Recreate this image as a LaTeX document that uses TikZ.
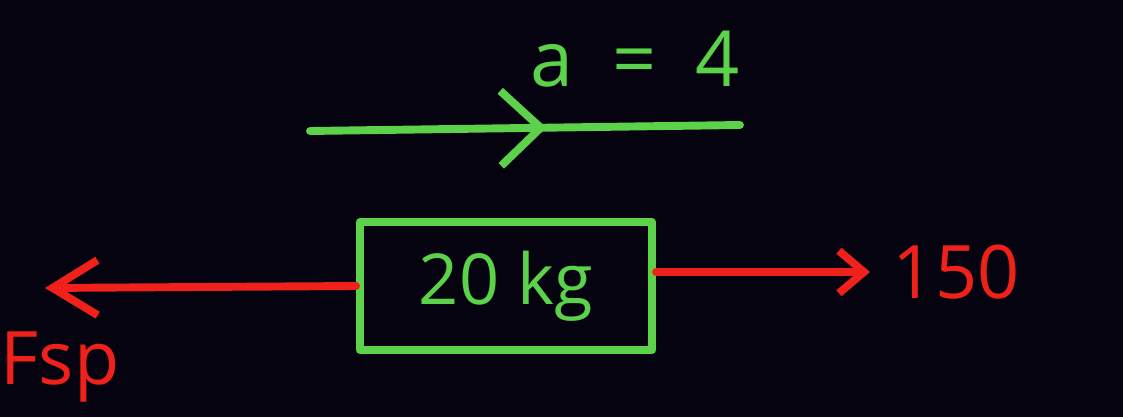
\documentclass[tikz,border=0pt]{standalone}
\usepackage{fontspec}
\setmainfont{Open Sans}
\usetikzlibrary{arrows.meta,positioning,decorations.markings}
\definecolor{board}{HTML}{05030F}
\definecolor{chalkgreen}{HTML}{5CD14A}
\definecolor{chalkred}{HTML}{F0201A}

\begin{document}
\begin{tikzpicture}[
  line cap=round, line join=round,
  grn/.style={draw=chalkgreen, line width=4.5pt},
  frc/.style={draw=chalkred, line width=4.5pt},
  txtg/.style={text=chalkgreen, font=\fontsize{40}{44}\selectfont, inner sep=0pt},
  txtr/.style={text=chalkred, font=\fontsize{42}{46}\selectfont, inner sep=0pt},
  midarr/.style={postaction={decorate}, decoration={markings,
      mark=at position 0.55 with {\arrow[chalkgreen, line width=4.5pt]{Straight Barb[length=0.8cm, width=1.5cm]}}}}]
\fill[board] (0,0) rectangle (22.46,8.34);
\useasboundingbox (0,0) rectangle (22.46,8.34);
% acceleration
\coordinate (aL) at (6.2,5.72);
\coordinate (aR) at (14.8,5.84);
\draw[grn, midarr] (aL) -- (aR);
\node[txtg, font=\fontsize{44}{48}\selectfont] (acc) at (12.7,7.15) {a\,\,\,=\,\,\,4};
% block
\node[grn, minimum width=5.84cm, minimum height=2.56cm, txtg] (mass) at (10.12,2.62) {20 kg};
% forces
\coordinate (tipL) at (0.9,2.58);
\coordinate (tipR) at (17.4,2.9);
\draw[frc, -{Straight Barb[length=0.9cm, width=1.1cm]}] (mass.west) -- (tipL);
\draw[frc, -{Straight Barb[length=0.5cm, width=0.85cm]}] ([yshift=0.28cm]mass.east) -- (tipR);
\node[txtr, right=0.45cm of tipR] (pull) {150};
\node[txtr] (spring) at (1.2,1.0) {Fsp};
\end{tikzpicture}
\end{document}
